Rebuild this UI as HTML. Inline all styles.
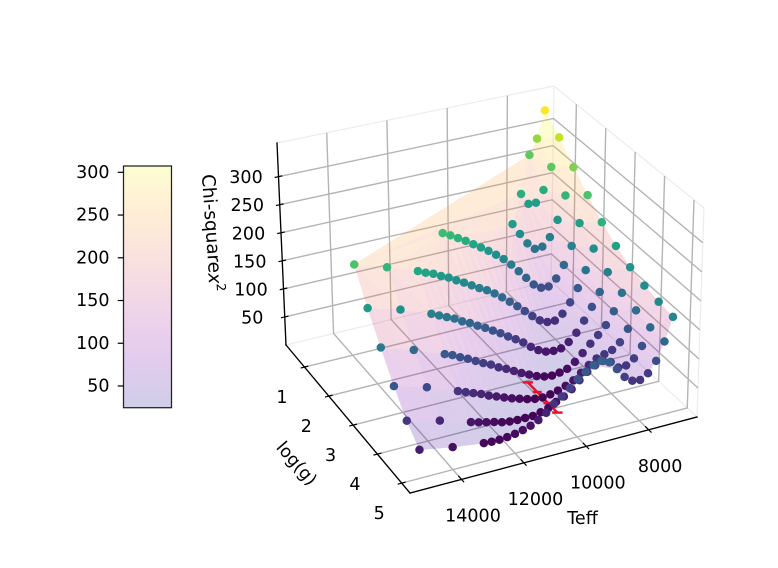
<!DOCTYPE html>
<html lang="en">
<head>
<meta charset="utf-8">
<title>Chi-square surface</title>
<style>
html,body{margin:0;padding:0;background:#fff;}
svg{display:block;filter:blur(0.3px);}
text{font-family:"DejaVu Sans","Liberation Sans",sans-serif;font-size:17.5px;fill:#000;}
</style>
</head>
<body>
<svg id="chart" xmlns="http://www.w3.org/2000/svg" width="778" height="568" viewBox="0 0 778 568">
  <defs>
    <linearGradient id="plasma-gradient" x1="0" y1="1" x2="0" y2="0">
      <stop offset="0" stop-color="#0d0887"/><stop offset="0.1" stop-color="#41049d"/>
      <stop offset="0.2" stop-color="#6a00a8"/><stop offset="0.3" stop-color="#8f0da4"/>
      <stop offset="0.4" stop-color="#b12a90"/><stop offset="0.5" stop-color="#cc4778"/>
      <stop offset="0.6" stop-color="#e16462"/><stop offset="0.7" stop-color="#f2844b"/>
      <stop offset="0.8" stop-color="#fca636"/><stop offset="0.9" stop-color="#fcce25"/>
      <stop offset="1" stop-color="#f0f921"/>
    </linearGradient>
  </defs>
  <g id="panes"></g>
  <g id="grid"></g>
  <g id="axes"></g>
  <g id="surface" opacity="0.2"></g>
  <g id="errors"></g>
  <g id="points"></g>
  <g id="labels">
    <text x="582.5" y="519" text-anchor="middle" dominant-baseline="central">Teff</text>
    <text text-anchor="middle" dominant-baseline="central" transform="translate(296 464) rotate(49)">log(g)</text>
    <text text-anchor="middle" dominant-baseline="central" transform="translate(211.5 233) rotate(86)" style="font-size:18.4px">Chi-square<tspan font-style="italic">x</tspan><tspan dy="-6.5" style="font-size:12.6px">2</tspan></text>
  </g>
  <g id="colorbar">
    <rect x="123.5" y="166" width="48" height="241.7" fill="#fff"/>
    <rect x="123.5" y="166" width="48" height="241.7" fill="url(#plasma-gradient)" fill-opacity="0.2"/>
    <rect x="123.5" y="166" width="48" height="241.7" fill="none" stroke="#222" stroke-width="1.25"/>
  </g>
</svg>
<script>
const teffValues = [15060,14000,13000,12750,12500,12250,12000,11750,11500,11250,11000,10750,10500,10250,10000,9750,9500,9250,9000,8750,8500,8250,8000,7750,7500,7250,7000];
const loggValues = [5,4.5,4,3.5,3,2.5,2,1.5,1,0.5];
const chiLogg50 = [48,38,31,30,30,31,33,36,40,46,55,67,76,87,99,108,116,120,114,99,82,72,70,78,96,126,165];
const chiLogg45 = [73,59,43,39,36,33,29,27,26,26,26,29,33,40,46,55,67,78,86,90,85,72,72,81,99,128,169];
const chiLogg40 = [108,92,72,67,62,57,51,46,41,36,32,28,25,24,26,29,34,40,50,60,68,72,76,86,106,135,175];
const chiLogg35 = [150,132,112,107,100,94,87,80,74,66,60,53,46,40,34,30,28,30,33,42,54,67,79,93,114,143,185];
const chiLogg30 = [194,178,158,152,146,140,132,126,118,111,103,95,86,78,69,58,49,43,41,42,50,63,81,102,125,157,200];
const chiLogg25 = [246,228,209,203,198,191,185,177,170,162,154,147,138,128,117,106,94,82,71,65,64,73,90,112,141,176,220];
const chiLogg20 = [null,null,null,null,null,null,null,237,230,222,214,205,196,187,177,166,153,138,123,108,99,98,109,130,161,199,246];
const chiLogg15 = [null,null,null,null,null,null,null,null,null,null,null,null,null,null,null,null,null,null,196,175,155,142,143,157,185,226,274];
const chiLogg10 = [null,null,null,null,null,null,null,null,null,null,null,null,null,null,null,null,null,null,null,null,null,218,197,196,216,255,306];
const chiLogg05 = [null,null,null,null,null,null,null,null,null,null,null,null,null,null,null,null,null,null,null,null,null,null,null,null,257,284,333];
const teffTicks = [14000,12000,10000,8000];
const loggTicks = [1,2,3,4,5];
const chiTicks = [50,100,150,200,250,300];
const colorbarTicks = [50,100,150,200,250,300];
const bestFitTeff = 10250;
const bestFitLogg = 4;
const bestFitChi = 24;
const bestFitLoggError = 0.55;
const bestFitLoggInnerError = 0.2;

const chiRows = [chiLogg50,chiLogg45,chiLogg40,chiLogg35,chiLogg30,chiLogg25,chiLogg20,chiLogg15,chiLogg10,chiLogg05];
const SVGNS = 'http://www.w3.org/2000/svg';
const teffHi = 15651, teffLo = 6451, loggLo = 0.24, loggHi = 5.34, chiTop = 360;
const colourLo = 24, colourHi = 333, surfaceHi = 308;
const floorQuad = {L:[286,345],B:[551,281],R:[697,417],F:[410,493]};
const topQuad = {L:[277,143],B:[554,86],R:[704,208],F:[405,278]};
const viridis = ['#440154','#482475','#414487','#355f8d','#2a788e','#21908d','#22a884','#42be71','#7ad151','#bddf26','#fde725'];
const plasma = ['#0d0887','#41049d','#6a00a8','#8f0da4','#b12a90','#cc4778','#e16462','#f2844b','#fca636','#fcce25','#f0f921'];

function uOf(t){return (teffHi-t)/(teffHi-teffLo);}
function vOf(g){return (g-loggLo)/(loggHi-loggLo);}
function wOf(c){return c/chiTop;}
function quad(q,u,v,k){return q.L[k]*(1-u)*(1-v)+q.B[k]*u*(1-v)+q.R[k]*u*v+q.F[k]*(1-u)*v;}
function place(u,v,w){
  const fx=quad(floorQuad,u,v,0),fy=quad(floorQuad,u,v,1),tx=quad(topQuad,u,v,0),ty=quad(topQuad,u,v,1);
  return [fx+(tx-fx)*w,fy+(ty-fy)*w];
}
function project(t,g,c){return place(uOf(t),vOf(g),wOf(c));}
function depth(t,g,c){return vOf(g)+(1-uOf(t))*0.8+wOf(c)*0.6;}
function ramp(table,f){
  f=Math.max(0,Math.min(1,f));
  const p=f*(table.length-1),i=Math.min(table.length-2,Math.floor(p)),d=p-i;
  const h=(s,o)=>parseInt(s.substr(o,2),16);
  const a=table[i],b=table[i+1];
  const r=[1,3,5].map(o=>Math.round(h(a,o)+(h(b,o)-h(a,o))*d));
  return 'rgb('+r.join(',')+')';
}
function colourFrac(c){return (c-colourLo)/(colourHi-colourLo);}
function surfaceFrac(c){return (c-colourLo)/(surfaceHi-colourLo);}
function make(tag,parentId){
  const el=document.createElementNS(SVGNS,tag);
  document.getElementById(parentId).appendChild(el);
  return el;
}
function setLine(el,a,b,color,width){
  el.setAttribute('x1',a[0].toFixed(2));
  el.setAttribute('y1',a[1].toFixed(2));
  el.setAttribute('x2',b[0].toFixed(2));
  el.setAttribute('y2',b[1].toFixed(2));
  el.setAttribute('stroke',color);
  el.setAttribute('stroke-width',width);
}
function setText(el,x,y,str,anchor){
  el.setAttribute('x',x.toFixed(2));
  el.setAttribute('y',y.toFixed(2));
  el.setAttribute('text-anchor',anchor);
  el.setAttribute('dominant-baseline','central');
  el.textContent=str;
}

/* pane edges */
const paneEdges=[
  [[0,0,0],[1,0,0]],[[1,0,0],[1,1,0]],[[0,0,1],[1,0,1]],[[1,0,1],[1,1,1]],
  [[1,0,0],[1,0,1]],[[1,1,0],[1,1,1]]
];
paneEdges.forEach(function(e){
  const el=make('line','panes');
  
  
  setLine(el,place(e[0][0],e[0][1],e[0][2]),place(e[1][0],e[1][1],e[1][2]),'#ececec',1.2);
});

/* grid */
const gridColor='#b4b4b4',gridWidth=1.4;
function polyGrid(name,pts){
  const el=make('polyline','grid');
  
  
  el.setAttribute('points',pts.map(p=>p[0].toFixed(2)+','+p[1].toFixed(2)).join(' '));
  el.setAttribute('fill','none');
  el.setAttribute('stroke',gridColor);
  el.setAttribute('stroke-width',gridWidth);
}
teffTicks.forEach(function(t){
  const u=uOf(t);
  polyGrid('teff-grid-line',[place(u,1,0),place(u,0,0),place(u,0,1)]);
});
loggTicks.forEach(function(g){
  const v=vOf(g);
  polyGrid('logg-grid-line',[place(0,v,0),place(1,v,0),place(1,v,1)]);
});
chiTicks.forEach(function(c){
  const w=wOf(c);
  polyGrid('chi-grid-line',[place(0,0,w),place(1,0,w),place(1,1,w)]);
});

/* axes */
const axisSegments=[[[0,0,0],[0,0,1]],[[0,0,0],[0,1,0]],[[0,1,0],[1,1,0]]];
axisSegments.forEach(function(e){
  const el=make('line','axes');
  
  
  el.setAttribute('stroke-linecap','square');
  setLine(el,place(e[0][0],e[0][1],e[0][2]),place(e[1][0],e[1][1],e[1][2]),'#000',1.35);
});
teffTicks.forEach(function(t){
  const u=uOf(t);
  const mark=make('line','axes');
  
  
  setLine(mark,place(u,0.975,0),place(u,1.02,0),'#000',1.2);
  const base=place(u,1,0);
  const label=make('text','labels');
  
  
  setText(label,base[0]+11.5,base[1]+37,String(t),'middle');
});
loggTicks.forEach(function(g){
  const v=vOf(g);
  const mark=make('line','axes');
  
  
  setLine(mark,place(-0.014,v,0),place(0.014,v,0),'#000',1.2);
  const base=place(0,v,0);
  const label=make('text','labels');
  
  
  setText(label,base[0]-22.5,base[1]+31,String(g),'middle');
});
chiTicks.forEach(function(c){
  const w=wOf(c);
  const mark=make('line','axes');
  
  
  setLine(mark,place(-0.014,0,w),place(0.014,0,w),'#000',1.2);
  const base=place(0,0,w);
  const label=make('text','labels');
  
  
  setText(label,base[0]-32.5,base[1]+1.5,String(c),'middle');
});

/* surface triangles built from the same arrays */
const triangles=[];
function rowIndices(r){
  const out=[];
  chiRows[r].forEach(function(c,i){if(c!==null)out.push(i);});
  return out;
}
function addTriangle(a,b,c){triangles.push([a,b,c]);}
for(let r=0;r<loggValues.length-1;r++){
  const a=rowIndices(r),b=rowIndices(r+1);
  let i=0,j=0;
  while(i<a.length-1||j<b.length-1){
    if(j>=b.length-1||(i<a.length-1&&a[i+1]<=b[j+1])){
      addTriangle([r,a[i]],[r+1,b[j]],[r,a[i+1]]);
      i++;
    }else{
      addTriangle([r,a[i]],[r+1,b[j]],[r+1,b[j+1]]);
      j++;
    }
  }
}
const hullStartRow=5;
for(let r=hullStartRow+1;r<loggValues.length-1;r++){
  const s1=rowIndices(r)[0],s2=rowIndices(r+1)[0];
  addTriangle([hullStartRow,0],[r,s1],[r+1,s2]);
}
function cornerChi(n){return chiRows[n[0]][n[1]];}
function triDepth(tri){
  return tri.reduce(function(s,n){return s+depth(teffValues[n[1]],loggValues[n[0]],cornerChi(n));},0)/3;
}
triangles.sort(function(a,b){return triDepth(a)-triDepth(b);});
triangles.forEach(function(tri){
  const pts=tri.map(function(n){return project(teffValues[n[1]],loggValues[n[0]],cornerChi(n));});
  const mean=(cornerChi(tri[0])+cornerChi(tri[1])+cornerChi(tri[2]))/3;
  const fillColor=ramp(plasma,surfaceFrac(mean));
  const el=make('polygon','surface');
  
  
  el.setAttribute('points',pts.map(p=>p[0].toFixed(2)+','+p[1].toFixed(2)).join(' '));
  el.setAttribute('fill',fillColor);
  el.setAttribute('stroke',fillColor);
  el.setAttribute('stroke-width','0.4');
});

/* best-fit error bars */
const errorRed='#e8112d';
function errorSegment(name,a,b,width){
  const el=make('line','errors');
  
  
  setLine(el,a,b,errorRed,width);
}
const errLow=project(bestFitTeff,bestFitLogg-bestFitLoggError,bestFitChi);
const errHigh=project(bestFitTeff,bestFitLogg+bestFitLoggError,bestFitChi);
errorSegment('error-bar-logg',errLow,errHigh,2.5);
[errLow,errHigh].forEach(function(p){
  errorSegment('error-bar-cap',[p[0]-5.2,p[1]],[p[0]+5.2,p[1]],2.4);
});
[bestFitLogg-bestFitLoggInnerError,bestFitLogg+bestFitLoggInnerError].forEach(function(g){
  const p=project(bestFitTeff,g,bestFitChi);
  errorSegment('error-bar-inner-cap',[p[0]-4.5,p[1]],[p[0]+4.5,p[1]],2.4);
});

/* scatter points */
const points=[];
chiRows.forEach(function(row,r){
  row.forEach(function(c,i){
    if(c!==null)points.push({t:teffValues[i],g:loggValues[r],c:c});
  });
});
points.sort(function(a,b){return depth(a.t,a.g,a.c)-depth(b.t,b.g,b.c);});
points.forEach(function(pt){
  const p=project(pt.t,pt.g,pt.c);
  const el=make('circle','points');
  
  
  el.setAttribute('cx',p[0].toFixed(2));
  el.setAttribute('cy',p[1].toFixed(2));
  el.setAttribute('r','4.25');
  el.setAttribute('fill',ramp(viridis,colourFrac(pt.c)));
});

/* colorbar axis */
const barBottom=407.7,barTop=166,barLow=24.6,barHigh=307.4;
function barY(c){return barBottom-(c-barLow)/(barHigh-barLow)*(barBottom-barTop);}
colorbarTicks.forEach(function(c){
  const y=barY(c);
  const mark=make('line','colorbar');
  
  
  setLine(mark,[117.7,y],[123.5,y],'#000',1.2);
  const label=make('text','colorbar');
  
  
  setText(label,109.5,y+0.5,String(c),'end');
});
</script>
</body>
</html>
